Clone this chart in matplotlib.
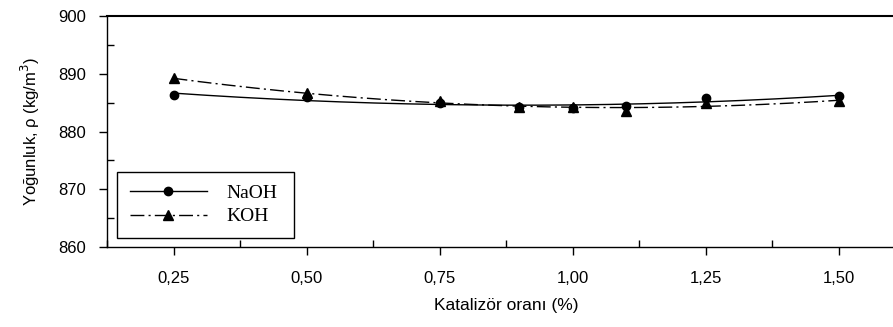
import numpy as np
import matplotlib.pyplot as plt
from matplotlib.ticker import MultipleLocator, FuncFormatter

# katalizor orani (%)
x_naoh = [0.25, 0.50, 0.75, 0.90, 1.00, 1.10, 1.25, 1.50]
y_naoh = [886.3, 886.0, 885.0, 884.2, 884.1, 884.4, 885.8, 886.2]
x_koh = [0.25, 0.50, 0.75, 0.90, 1.00, 1.10, 1.25, 1.50]
y_koh = [889.2, 886.6, 885.2, 884.3, 884.2, 883.6, 884.9, 885.3]

fig = plt.figure(figsize=(8.93, 3.27), dpi=100)
ax = fig.add_axes([0.1198, 0.2446, 0.894, 0.7064])

# 2. derece regresyon egrileri
xs = np.linspace(0.25, 1.5, 200)
c1 = np.polyfit(x_naoh, y_naoh, 2)
c2 = np.polyfit(x_koh, y_koh, 2)
ax.plot(xs, np.polyval(c1, xs), color='black', lw=1.0)
ax.plot(xs, np.polyval(c2, xs), color='black', lw=1.0, dashes=(10, 3, 1.5, 3))
ax.plot(x_naoh, y_naoh, 'o', color='black', ms=6)
ax.plot(x_koh, y_koh, '^', color='black', ms=6.5)

# legend proxies
h1, = ax.plot([], [], color='black', lw=1.0, marker='o', ms=6)
h2, = ax.plot([], [], color='black', lw=1.0, marker='^', ms=6.5, dashes=(10, 3, 1.5, 3))
leg = ax.legend([h1, h2], ['NaOH', 'KOH'], loc='lower left',
                bbox_to_anchor=(0.0125, 0.039, 0.222, 0.303), mode='expand',
                prop={'family': 'Liberation Serif', 'size': 14},
                handlelength=4.0, handletextpad=1.0, borderpad=0.65,
                labelspacing=0.3, fancybox=False, edgecolor='black',
                framealpha=1, borderaxespad=0)
leg.get_frame().set_linewidth(1.0)

ax.set_xlim(0.125, 1.625)
ax.set_ylim(860, 900)
ax.xaxis.set_major_locator(MultipleLocator(0.25))
ax.xaxis.set_minor_locator(MultipleLocator(0.125))
ax.yaxis.set_major_locator(MultipleLocator(10))
ax.yaxis.set_minor_locator(MultipleLocator(5))
ax.xaxis.set_major_formatter(FuncFormatter(lambda v, p: f'{v:.2f}'.replace('.', ',')))
ax.tick_params(which='major', direction='out', length=6, width=1,
               labelsize=12)
ax.tick_params(axis='x', which='major', pad=11)
ax.tick_params(axis='y', which='major', pad=9)
ax.tick_params(which='minor', direction='in', length=5, width=1)
for lab in ax.get_xticklabels() + ax.get_yticklabels():
    lab.set_family('Liberation Sans')

for s in ax.spines.values():
    s.set_linewidth(1.0)
ax.spines['top'].set_linewidth(1.5)

ax.set_xlabel('Katalizör oranı (%)', family='Liberation Sans', fontsize=12.5, labelpad=9)
ax.set_ylabel('Yoğunluk, ρ (kg/m$^3$)', family='Liberation Sans', fontsize=12, labelpad=12)

fig.savefig('out.png', dpi=100)
